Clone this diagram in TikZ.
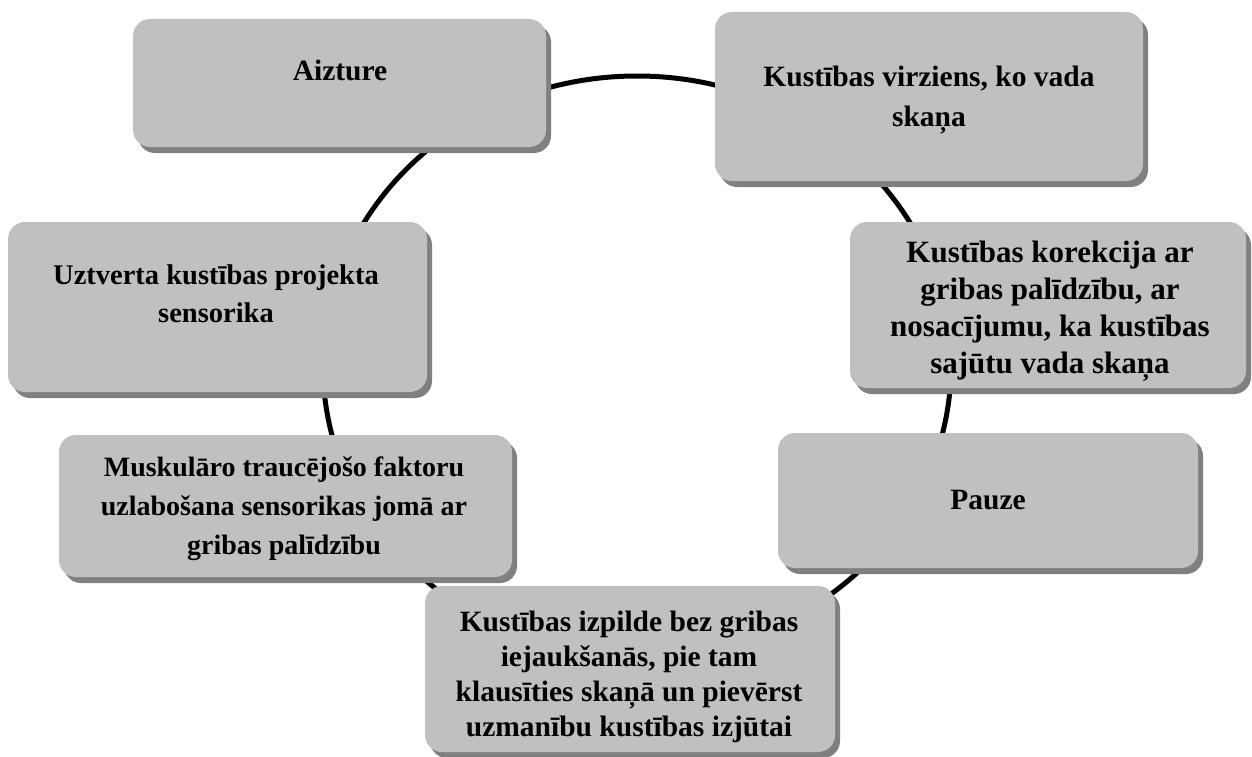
\documentclass[tikz,border=0pt]{standalone}
\usepackage{fontspec}
\setmainfont{Liberation Serif}
\usetikzlibrary{shadows}
\definecolor{boxgray}{HTML}{C0C0C0}
\definecolor{shadowgray}{HTML}{808080}
\begin{document}
\begin{tikzpicture}[x=1pt,y=-1pt,
  stagebox/.style={draw=none, fill=boxgray, rounded corners=17pt, inner sep=0pt,
    drop shadow={shadow xshift=5pt, shadow yshift=-6pt, fill=shadowgray, opacity=1}},
  stagetext/.style={align=center, inner sep=0pt,
    font=\bfseries\fontsize{29.5}{38}\selectfont}]
\useasboundingbox (0,0) rectangle (1252,757);

% the ring behind the stages
\draw[line width=5pt] (637,366) ellipse [x radius=314, y radius=290];

% stage boxes
\node[stagebox, minimum width=413, minimum height=128] (b1) at (339.5,83) {};
\node[stagebox, minimum width=428, minimum height=169] (b2) at (929,96.5) {};
\node[stagebox, minimum width=419, minimum height=170] (b3) at (217.5,307) {};
\node[stagebox, minimum width=396, minimum height=166] (b4) at (1048,305) {};
\node[stagebox, minimum width=453, minimum height=142] (b5) at (285.5,506) {};
\node[stagebox, minimum width=420, minimum height=135] (b6) at (988,500.5) {};
\node[stagebox, minimum width=410, minimum height=166] (b7) at (630,669) {};

% stage texts
\node[stagetext] (t1) at (340,70) {Aizture};
\node[stagetext, font=\bfseries\fontsize{29.5}{40}\selectfont] (t2) at (929,100)
  {Kustības virziens, ko vada\\skaņa};
\node[stagetext, font=\bfseries\fontsize{28.5}{38}\selectfont] (t3) at (216,294)
  {Uztverta kustības projekta\\sensorika};
\node[stagetext, font=\bfseries\fontsize{31}{37}\selectfont] (t4) at (1050,311)
  {Kustības korekcija ar\\gribas palīdzību, ar\\nosacījumu, ka kustības\\sajūtu vada skaņa};
\node[stagetext, font=\bfseries\fontsize{28}{39}\selectfont] (t5) at (284,509)
  {Muskulāro traucējošo faktoru\\uzlabošana sensorikas jomā ar\\gribas palīdzību};
\node[stagetext] (t6) at (988,500) {Pauze};
\node[stagetext, font=\bfseries\fontsize{29.5}{35}\selectfont] (t7) at (629,677)
  {Kustības izpilde bez gribas\\iejaukšanās, pie tam\\klausīties skaņā un pievērst\\uzmanību kustības izjūtai};
\end{tikzpicture}
\end{document}
